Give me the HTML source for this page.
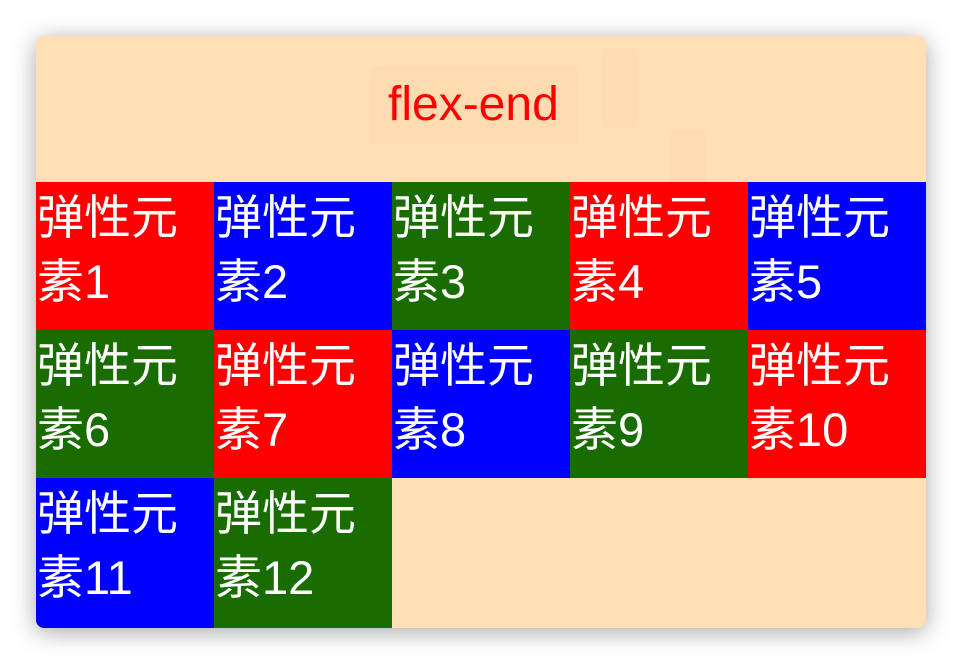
<!DOCTYPE html>
<html><head><meta charset="utf-8"><style>
html,body{margin:0;padding:0;width:962px;height:664px;background:#fff;overflow:hidden}
#win{position:absolute;left:36px;top:36px;width:890px;height:592px;background:#ffdfb5;border-radius:8px;overflow:hidden;box-shadow:0 4px 24px rgba(0,0,0,0.35)}
#head{position:absolute;left:0;top:0;width:890px;height:146px}
#title{position:absolute;left:334px;top:30px;width:208px;height:78px;background:#fedbb0;border-radius:6px}
#title span{position:absolute;left:18px;top:12px;font:48px "Liberation Sans","Noto Sans CJK SC",sans-serif;color:#ff0000;line-height:54px}
.faint{position:absolute;background:#fedbb0;border-radius:6px}
#grid{position:absolute;left:0;top:146px;width:890px;display:flex;flex-wrap:wrap}
.it{width:178px;height:148px;color:#fff;font:47px "Liberation Sans","Noto Sans CJK SC",sans-serif;line-height:64px;padding-top:4px;box-sizing:border-box;padding-left:1px;white-space:nowrap}
.it:nth-child(n+11){height:150px}
.r{background:#ff0000}.b{background:#0000ff}.g{background:#186c00}
</style></head><body>
<div id="win">
<div id="head">
<div id="title"><span>flex-end</span></div>
<div class="faint" style="left:565px;top:12px;width:36px;height:80px"></div>
<div class="faint" style="left:634px;top:94px;width:36px;height:60px"></div>
</div>
<div id="grid">
<div class="it r">弹性元<br>素1</div>
<div class="it b">弹性元<br>素2</div>
<div class="it g">弹性元<br>素3</div>
<div class="it r">弹性元<br>素4</div>
<div class="it b">弹性元<br>素5</div>
<div class="it g">弹性元<br>素6</div>
<div class="it r">弹性元<br>素7</div>
<div class="it b">弹性元<br>素8</div>
<div class="it g">弹性元<br>素9</div>
<div class="it r">弹性元<br>素10</div>
<div class="it b">弹性元<br>素11</div>
<div class="it g">弹性元<br>素12</div>
</div>
</div>
</body></html>
